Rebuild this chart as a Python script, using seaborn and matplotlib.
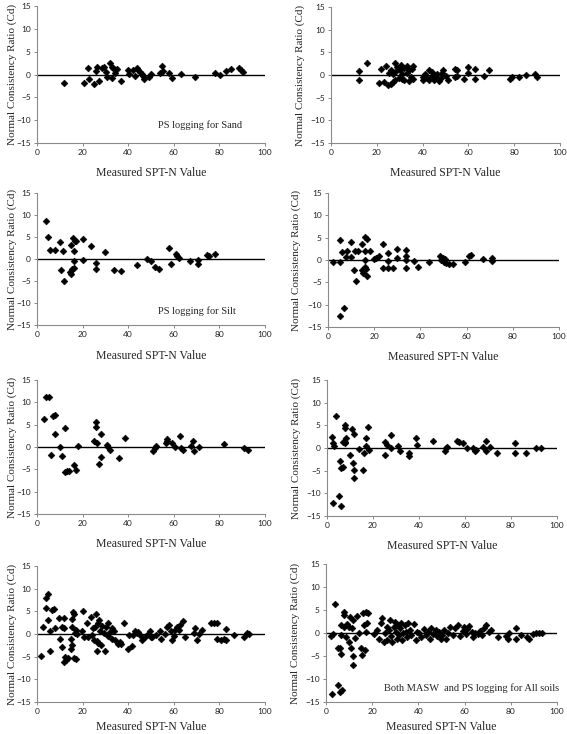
import matplotlib
matplotlib.use("Agg")
import matplotlib.pyplot as plt
import seaborn as sns

# panel 1: PS logging for sand
sand_ps_n = [12, 20.8, 22.2, 23, 25.2, 26.2, 26, 27, 28.4, 29.5, 30.3, 30.8, 32, 32.7, 33.5, 33,
             34.2, 35, 37, 40, 40.5, 42.2, 43, 43.7, 44.4, 45.2, 46, 46.6, 47.1, 49.3, 49.9, 54,
             54.8, 55.1, 58, 59.1, 63.2, 69.3, 78, 80.3, 82.7, 85, 88.7, 89.6, 90.2]
sand_ps_cd = [-1.8, -1.8, 1.5, -1.0, -2.0, 1.7, 0.8, -1.5, 1.4, 1.7, 0.6, -0.6, 2.5, 1.7, 1.4, -0.8,
              0.4, 1.2, -1.4, 1.0, 0.1, 0.9, -0.3, 1.5, 1.0, 0.6, 0.1, -0.3, -1.0, -0.5, 0.1, 0.4,
              1.9, 0.7, 0.3, -0.8, 0.1, -0.6, 0.3, -0.1, 0.7, 1.2, 1.4, 1.0, 0.6]

# panel 2: sand (right column)
sand_m_n = [12.1, 12.1, 15.9, 21, 22, 23, 24, 25, 25.5, 26, 26, 27, 27, 28, 28, 28.5, 29, 29.5, 30,
            30.5, 31, 31, 32, 32, 33, 33, 34, 34, 35, 35.5, 36, 36, 40, 40, 41, 42, 43, 43, 44, 44,
            45, 45, 46, 46.5, 47, 48, 48.5, 49, 50, 51, 54, 54, 55, 55, 58, 60, 60, 63, 63, 67, 69,
            78, 79, 82, 85, 89, 90]
sand_m_cd = [0.95, -1.1, 2.6, -1.8, 1.3, -1.5, 2.0, -2.3, 0.5, -2.0, 1.2, -1.5, 0.3, 2.6, -1.0, 0.8,
             1.8, -0.6, 1.0, 2.1, 0.2, -0.8, 1.5, -1.1, 2.0, 0.5, -1.4, 1.0, -0.5, 1.4, 2.0, -0.9,
             -1.0, -0.4, 0.2, -0.6, 1.2, -1.2, 0.7, -0.3, 0.1, -1.0, -0.5, 0.3, -1.3, -0.7, 0.5, 1.0,
             -0.2, -1.1, 1.3, -0.5, 1.0, -0.2, -0.8, 1.8, 0.5, 1.4, -0.9, -0.3, 1.2, -0.8, -0.4, -0.5,
             0.0, 0.3, -0.4]

# panel 3: PS logging for silt
silt_ps_n = [3.9, 4.8, 5.8, 8, 9.9, 10.7, 11.4, 11.8, 14.6, 14.9, 14.9, 15.5, 15.8, 16.1, 16.1, 16.1,
             16.8, 17.2, 20, 20.1, 23.8, 26, 26, 29.8, 33.9, 36.8, 43.8, 48.3, 50.1, 51.8, 53.7, 57.8,
             58.8, 61, 61.6, 62.2, 66.9, 70.8, 70.8, 74.7, 75.6, 78.1]
silt_ps_cd = [8.7, 5.0, 2.1, 2.1, 3.9, -2.4, 1.8, -5.0, -2.9, -3.3, 3.1, -2.2, 4.8, 1.8, -0.5, -2.0,
              4.2, 4.0, 4.6, -0.2, 3.0, -0.9, -2.2, 1.7, -2.4, -2.8, -1.4, 0.0, -0.4, -1.8, -2.3, 2.5,
              -1.1, 1.1, 0.6, 0.3, -0.5, -0.2, -1.1, 0.8, 0.7, 1.1]

# panel 4: silt (right column)
silt_m_n = [2.2, 5.1, 5.1, 5.1, 5.9, 6.9, 7.6, 8.4, 9.8, 10.1, 11.1, 11.5, 12, 13, 14.9, 14.9, 15.1,
            15.9, 15.9, 15.9, 15.9, 16.3, 16.9, 17, 18, 19.8, 20.9, 22.1, 23.8, 23.8, 26, 26, 26, 28.1,
            30, 30, 33.9, 33.9, 33.9, 33.9, 37.2, 39, 43.7, 48.3, 49.1, 49.8, 50.2, 50.8, 51.2, 52.2,
            54.1, 59.2, 61, 62, 67.1, 71.1, 71.1]
silt_m_cd = [-0.4, 4.5, -0.4, -12.5, 1.7, -10.8, 0.7, 2.1, 4.0, 0.7, -2.2, 2.1, -4.7, 2.1, 3.5, -2.2,
             -2.8, 2.1, 5.2, 0.0, -1.6, -2.0, 4.7, -3.5, 2.1, 0.3, 0.4, 0.8, 3.5, -1.9, 1.5, -0.3, -1.8,
             -1.9, 2.4, 0.4, 2.2, 0.9, 0.0, -1.8, -0.3, -1.5, -0.4, 0.9, 0.0, 0.5, -0.4, 0.3, -0.7,
             -1.0, -1.0, -0.4, 0.9, 1.2, 0.3, 0.5, -0.2]

# panel 5: clay (left column)
clay_ps_n = [3.1, 4.1, 5.1, 6.1, 6.9, 7.7, 8, 10.2, 11.1, 12.1, 12.1, 13.1, 14.2, 16.4, 17.2, 18.2,
             25, 26, 26, 26.3, 27.3, 28, 28, 30.7, 31.2, 32, 35.9, 38.8, 50.8, 51.7, 52.3, 56.6, 56.9,
             57.2, 59.1, 60.6, 62.8, 63.1, 64, 67.7, 68.6, 68.9, 71.1, 82, 91, 92.7]
clay_ps_cd = [6.3, 11.3, 11.3, -1.8, 7.0, 7.1, 3.0, -0.1, -2.1, 4.3, -5.6, -5.3, -5.3, -4.1, -5.2, 0.2,
              1.3, 5.6, 4.4, 0.8, -3.7, 2.9, -2.2, 0.4, -0.1, -0.6, -2.5, 2.1, -0.8, -0.2, 0.2, 0.8,
              1.9, 1.4, 1.0, -0.1, 2.4, -0.2, -0.6, 0.2, 1.4, -0.8, 0.1, 0.7, -0.2, -0.6]

# panel 6: clay (right column)
clay_m_n = [2.0, 2.8, 2.8, 3.2, 3.9, 5.1, 5.7, 6.1, 6.0, 6.8, 7.0, 7.7, 7.7, 7.7, 8.3, 8.0, 10.0,
            10.7, 11.2, 11.9, 11.9, 11.9, 14.1, 15.8, 16.1, 17, 17, 18, 18.1, 25, 25, 26, 27.9, 27.9,
            30.8, 31.6, 35.8, 35.8, 38.8, 39, 46, 51.1, 51.8, 52.1, 56.6, 57.2, 59.1, 61, 63.4, 64.2,
            64.9, 67.8, 69, 69, 71, 74, 81.9, 81.9, 86.4, 91, 93.2]
clay_m_cd = [2.4, 1.1, -12.2, 0.5, 7.0, -10.6, -2.8, -12.8, -4.4, -4.1, 1.3, 5.1, 4.5, 1.3, 2.1, 1.0,
             -1.6, 4.2, -3.3, 3.1, -4.8, -6.7, -0.2, -4.9, -1.2, 2.1, 0.5, 4.6, -0.4, 1.3, -1.6, 0.7,
             2.9, 0.0, 0.4, -0.6, -1.0, -1.7, 2.1, 0.6, 1.5, -0.6, 0.0, 0.3, 1.6, 1.3, 1.2, 0.0, -0.1,
             -0.6, -0.4, 0.2, 1.6, -0.7, 0.2, -1.0, 1.0, -1.0, -1.1, -0.1, -0.1]

# panel 7: all soils (left column)
all_ps_n = [1.6, 2.8, 3.9, 4.7, 3.9, 5, 5.7, 5.7, 6.7, 7.6, 7.9, 9.6, 9.9, 10.8, 10.8, 11.7, 11.8,
            12.1, 11.7, 12.7, 13.7, 14.8, 14.8, 15.2, 15.5, 15.5, 15.6, 16.4, 16.2, 17, 16.7, 17.3,
            17.7, 19.7, 20, 20.8, 21.8, 22.5, 23.7, 24.3, 24.7, 25.1, 25.4, 25.9, 26.2, 26.3, 26.9,
            26.9, 27.3, 27.6, 27.9, 28.4, 29.4, 29.8, 30.3, 31, 31.3, 31.9, 32.8, 33, 33.9, 34.2,
            35.4, 36.3, 36.8, 38.3, 39.8, 40.4, 41.5, 42.3, 43, 43.7, 44.4, 45.6, 46.2, 47.4, 48.5,
            49.6, 50.3, 50.2, 52.3, 53.8, 54.5, 56, 56.8, 57.8, 58.8, 59.3, 60, 60.7, 61.4, 62.2,
            62.9, 63.9, 64.7, 68.8, 69.5, 70, 71, 72.2, 76.1, 77.6, 78.8, 79.1, 80.5, 82, 83, 83,
            86.4, 90.7, 92.2, 93]
all_ps_cd = [-4.9, 1.6, 7.9, 8.8, 5.8, 3.1, 0.7, -3.8, 5.3, 5.6, 1.4, 3.5, -1.2, -2.9, 1.6, 3.5, 1.3,
             -5.1, -6.2, -5.7, -5.4, -1.0, -3.2, 3.3, -2.4, 1.6, 4.9, 4.4, -5.2, -5.6, 0.3, 0.9, 0.0,
             0.7, 5.1, -0.7, 2.4, -0.6, 3.7, -0.2, 1.3, -1.3, 1.6, 4.4, -1.5, -3.7, 2.4, -1.9, 3.1,
             0.7, -2.4, 1.7, 0.3, -3.7, 1.6, 2.4, -0.4, 0.5, 1.3, -1.0, 0.7, -1.3, -2.3, -1.7, -2.1,
             2.4, -3.2, -0.2, -2.6, -0.2, 0.7, 0.3, 0.5, -0.4, -1.3, -0.6, 0.0, 0.7, -0.6, -0.7, -0.2,
             0.7, -1.0, 0.1, 1.6, 2.0, 0.7, -1.3, -0.4, 0.9, 1.6, 0.9, 2.0, 2.9, -0.6, 0.3, 1.3, -1.3,
             0.0, 0.9, 2.4, 2.5, 2.4, -1.0, -1.3, -1.1, 1.0, -1.3, -0.2, -0.6, 0.3, 0.0]

# panel 8: both MASW and PS logging for all soils
all_both_n = [2.7, 2.3, 3.2, 3.9, 5.2, 6.1, 7.1, 5.2, 6.1, 6.3, 6.3, 6.3, 7.8, 7.8, 7.8, 8.5, 9.2,
              9.9, 10.4, 9.9, 10.7, 11.7, 11.7, 11.4, 11.8, 12.4, 13.3, 14.3, 15.3, 15.7, 16.0, 16.5,
              16.7, 17.2, 17.5, 17.9, 18.3, 20.8, 22.2, 22.9, 23.7, 24.4, 25.1, 25.5, 26.3, 26.5,
              27.3, 27.7, 28, 28.7, 29.4, 29.7, 30.2, 30.6, 31.2, 31.6, 32, 32.3, 33, 33.5, 34.1,
              34.5, 35.2, 35.5, 36.4, 36.9, 38.1, 38.8, 39.2, 40.3, 41.3, 42.4, 43.1, 44.2, 45, 45.6,
              46.5, 47.5, 48.2, 48.9, 49.6, 50.1, 51.1, 52, 53, 53.7, 54.8, 55.8, 57.3, 57.9, 59.1,
              59.7, 60.5, 61.1, 61.9, 63, 63.7, 64.7, 65.7, 66.7, 67.6, 68.6, 69.3, 70.5, 71.5, 74.4,
              78, 78.7, 79.4, 82.3, 82.3, 84.5, 86.9, 87.8, 89.8, 91, 92.1, 93.5]
all_both_cd = [-13.3, -0.7, -0.2, 6.2, -11.3, -12.8, -12.4, -3.3, -3.3, -4.6, -0.4, 1.7, 4.6, 3.9, 1.4,
               -0.8, 1.9, 1.4, 3.4, -1.9, -3.3, -5.1, -7.0, 1.0, 2.8, -1.0, 3.7, 0.0, -3.3, -4.8, 4.3,
               1.7, -3.7, 4.6, 0.3, 2.1, 4.4, -0.2, 0.7, -1.2, 2.2, 3.2, -1.9, 0.0, 1.4, -1.5, 0.7,
               2.8, -0.7, -1.9, 1.4, 2.5, 0.3, -1.2, 1.7, -0.4, 1.0, 2.1, -1.5, -0.1, 1.7, 0.3, -0.8,
               2.2, 0.7, -0.4, 1.9, -1.5, 0.3, 0.0, -0.8, 0.8, -0.4, 0.3, -1.2, 1.0, -0.2, 0.7, -0.7,
               0.3, -1.2, -0.4, 0.7, -1.2, 0.1, 1.4, -0.4, 1.0, 1.7, -0.7, 0.5, 1.4, -0.2, 0.9, 1.5,
               0.3, -0.9, 0.1, -0.2, 0.5, -0.4, 1.0, 1.7, 0.3, 0.7, -0.8, -0.7, -1.2, -0.1, 1.0, -1.2,
               -0.4, -0.9, -1.2, -0.2, 0.1, 0.0, 0.0]

x_ticks = [0, 20, 40, 60, 80, 100]
y_ticks = [-15, -10, -5, 0, 5, 10, 15]

panels = [
    (sand_ps_n, sand_ps_cd, "PS logging for Sand"),
    (sand_m_n, sand_m_cd, None),
    (silt_ps_n, silt_ps_cd, "PS logging for Silt"),
    (silt_m_n, silt_m_cd, None),
    (clay_ps_n, clay_ps_cd, None),
    (clay_m_n, clay_m_cd, None),
    (all_ps_n, all_ps_cd, None),
    (all_both_n, all_both_cd, "Both MASW  and PS logging for All soils"),
]

# axes boxes in pixels: left, top, right, bottom
boxes = [(37, 6, 265, 143), (331, 7, 560, 143),
         (37, 193, 265, 325), (328, 193, 559, 327),
         (37, 380, 265, 514), (327, 380, 557, 516),
         (37, 566, 265, 702), (326, 564, 557, 702)]
# right edge of the rotated y label, in pixels
ylab_x = [17, 305, 17, 301, 17, 301, 17, 300]
# x label gap below the axes, in points
xlab_pad = [8, 8, 8.5, 8, 8, 7.5, 4, 4]
# text anchor (x data, y data)
text_pos = {0: (53, -11), 2: (53, -11.8), 7: (101, -12)}

sns.set_style("white")
plt.rcParams['font.family'] = ['Liberation Serif', 'DejaVu Serif']

W, H = 567, 734
fig = plt.figure(figsize=(W / 100, H / 100), dpi=100)

for i, (xs, ys, label) in enumerate(panels):
    l, t, r, b = boxes[i]
    ax = fig.add_axes([l / W, 1 - b / H, (r - l) / W, (b - t) / H])
    ax.axhline(0, color='black', lw=1.0, zorder=1)
    sns.scatterplot(x=xs, y=ys, ax=ax, marker='D', color='black', s=12,
                    edgecolor='black', linewidth=0.4, zorder=3)
    ax.set_xlim(0, 100)
    ax.set_ylim(-15, 15)
    ax.set_xticks(x_ticks)
    ax.set_yticks(y_ticks)
    for s in ['top', 'right']:
        ax.spines[s].set_visible(False)
    for s in ['left', 'bottom']:
        ax.spines[s].set_color('#8a8a8a')
        ax.spines[s].set_linewidth(0.8)
    ax.tick_params(axis='both', direction='out', length=2.5, width=0.7, color='#8a8a8a',
                   labelsize=6, labelcolor='#222222', pad=2, left=True, bottom=True)
    for lab in ax.get_xticklabels() + ax.get_yticklabels():
        lab.set_family(['Lato', 'DejaVu Sans'])
    ax.set_xlabel("Measured SPT-N Value", fontsize=8.5, labelpad=xlab_pad[i])
    ax.set_ylabel("Normal Consistency Ratio (Cd)", fontsize=8)
    ax.yaxis.set_label_coords((ylab_x[i] - l) / (r - l), 0.5)
    if label:
        tx, ty = text_pos[i]
        ax.text(tx, ty, label, fontsize=7.5, ha='right' if i == 7 else 'left',
                va='center', clip_on=False)

fig.savefig("out.png", dpi=100)
